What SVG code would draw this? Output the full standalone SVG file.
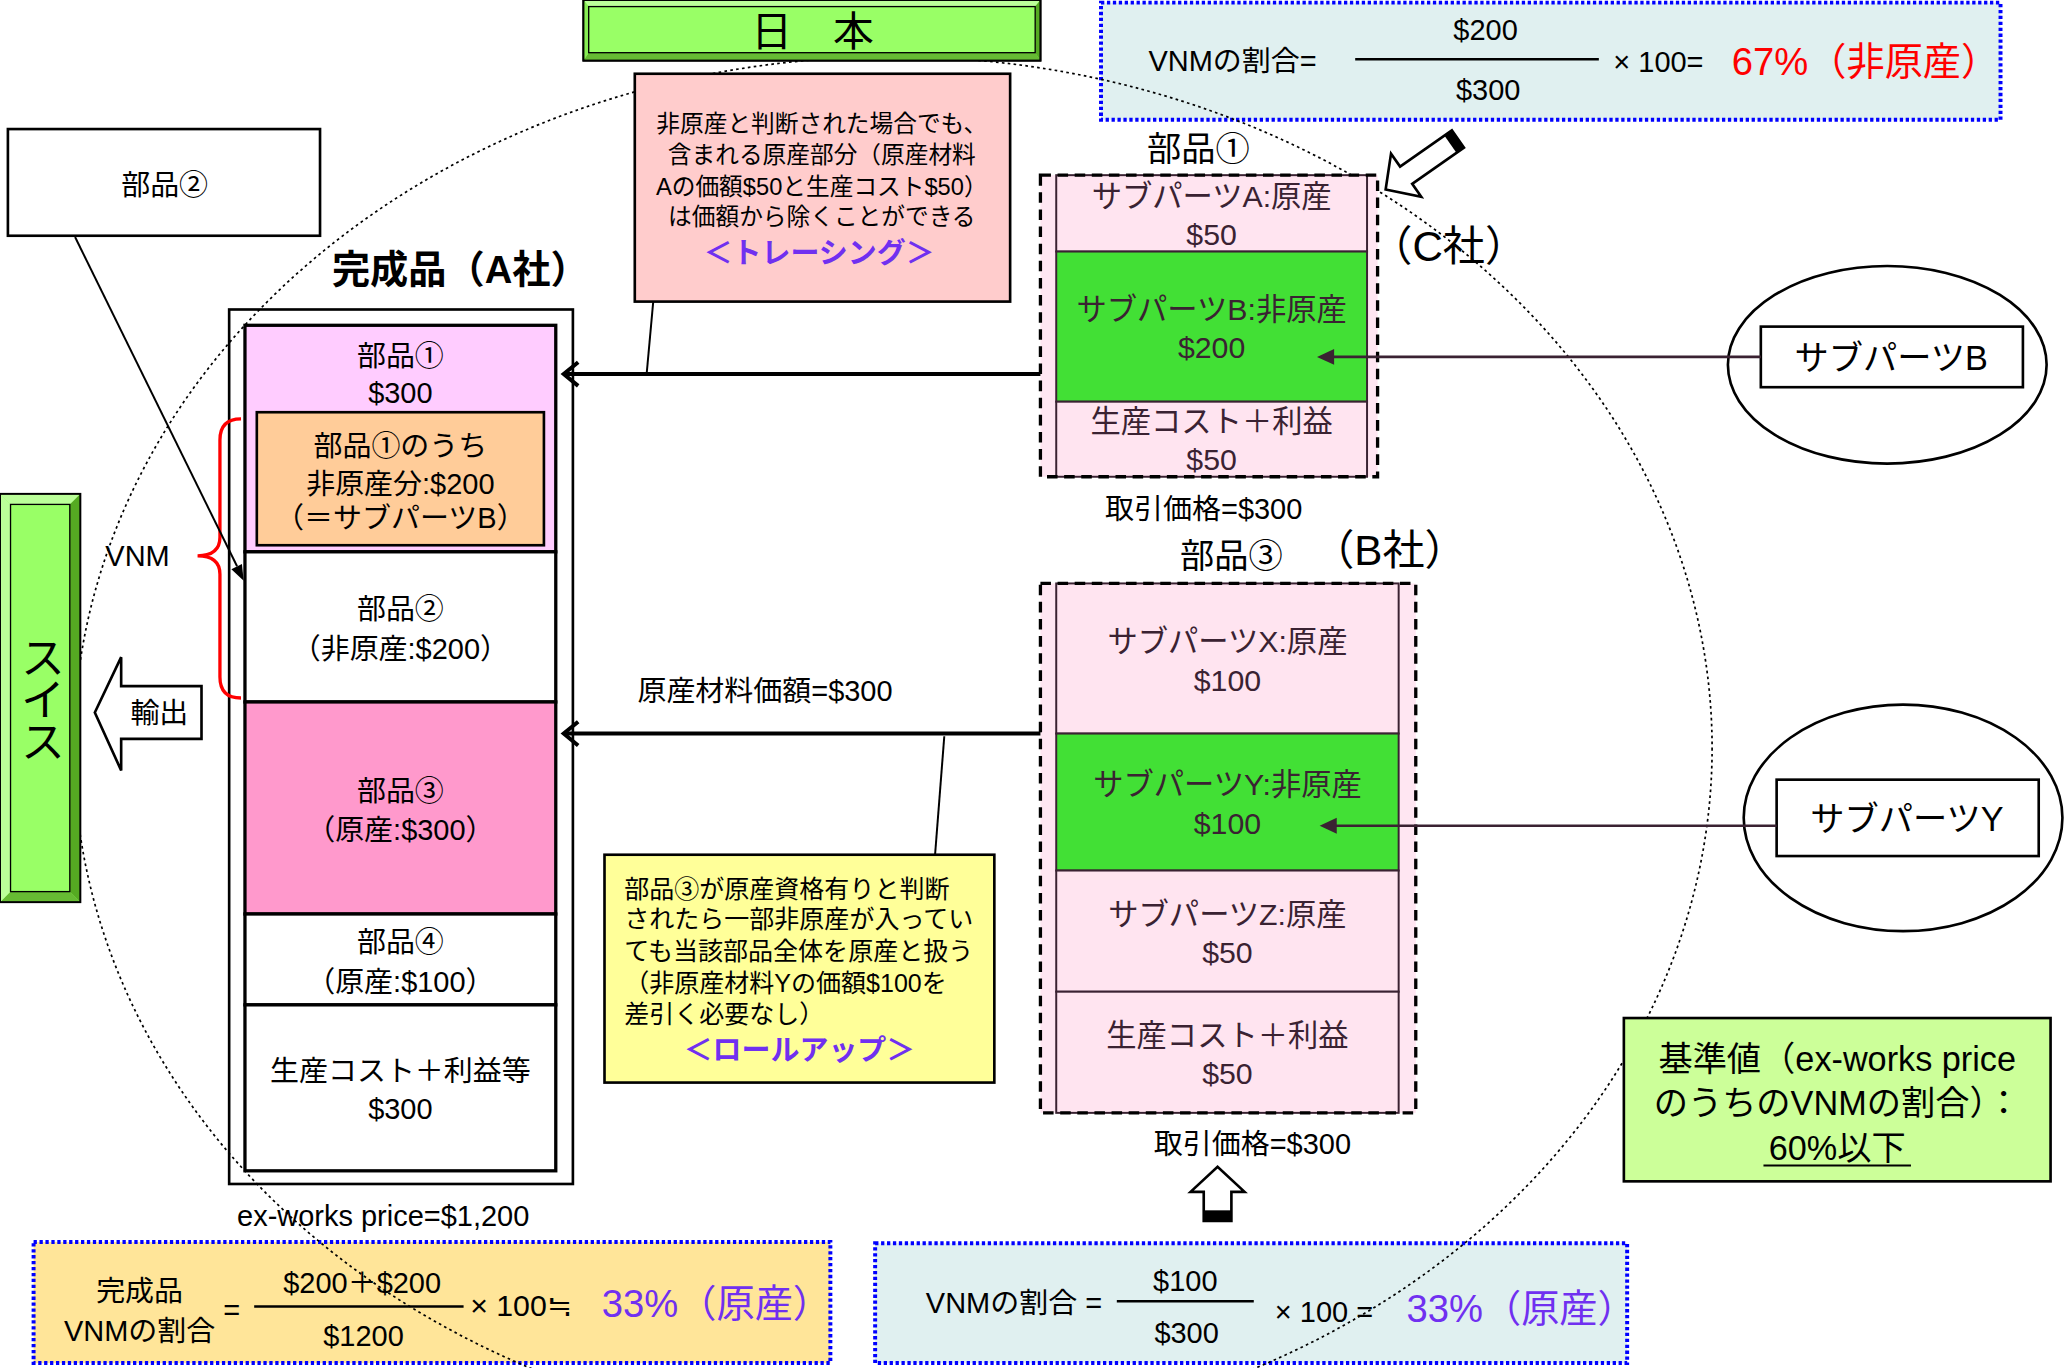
<svg xmlns="http://www.w3.org/2000/svg" width="2065" height="1368" viewBox="0 0 2065 1368">
<style>
text { font-family: "Liberation Sans", "Noto Sans CJK JP", sans-serif; fill: #000; }
.c { text-anchor: middle; }
.f22 { font-size: 22px; }
.f23 { font-size: 23px; }
.f19 { font-size: 19px; }
.f18 { font-size: 18px; }
.f26 { font-size: 26px; }
.f29 { font-size: 29px; }
.f32 { font-size: 32px; }
.dk { fill: #3a2232; }
.pur { fill: #7030F0; }
.red { fill: #FF0000; }
.fbox { stroke: #0000FF; stroke-width: 3; stroke-dasharray: 2.5 2; }
.seg { stroke: #000; stroke-width: 2.5; }
.sub { stroke: #3a2232; stroke-width: 1.5; }
.dash { fill: none; stroke: #000; stroke-width: 2.5; stroke-dasharray: 8 5; }
.thick { stroke: #000; stroke-width: 3; fill: none; }
</style>
<rect x="0" y="0" width="2065" height="1368" fill="#fff"/>
<g transform="scale(1.317)">
  <!-- formula boxes (below the dotted circle) -->
  <g id="formula-total">
    <rect class="fbox" x="25.5" y="943" width="605" height="92" fill="#FFE599"/>
    <text class="c f22" x="106" y="988">完成品</text>
    <text class="c f22" x="106" y="1018">VNMの割合</text>
    <text class="c f22" x="176" y="1002">=</text>
    <text class="c f22" x="275" y="982">$200＋$200</text>
    <line x1="193" y1="992" x2="352" y2="992" stroke="#000" stroke-width="2"/>
    <text class="c f22" x="276" y="1022">$1200</text>
    <text class="f23" x="357" y="999">× 100≒</text>
    <text class="f29 pur" x="457" y="1000">33%（原産）</text>
  </g>
  <g id="formula-partB">
    <rect class="fbox" x="664.5" y="944" width="571" height="91" fill="#E0F0F0"/>
    <text class="f22" x="703" y="997">VNMの割合 =</text>
    <text class="c f22" x="900" y="980">$100</text>
    <line x1="848" y1="988" x2="952" y2="988" stroke="#000" stroke-width="2"/>
    <text class="c f22" x="901" y="1020">$300</text>
    <text class="f22" x="968" y="1004">× 100 =</text>
    <text class="f29 pur" x="1068" y="1004">33%（原産）</text>
  </g>
  <g id="formula-partC">
    <rect class="fbox" x="836" y="2" width="683" height="89" fill="#E0F0F0"/>
    <text class="f22" x="872" y="54">VNMの割合=</text>
    <text class="c f22" x="1128" y="30">$200</text>
    <line x1="1029" y1="45" x2="1214" y2="45" stroke="#000" stroke-width="2"/>
    <text class="c f22" x="1130" y="76">$300</text>
    <text class="f22" x="1225" y="55">× 100=</text>
    <text class="f29 red" x="1315" y="57">67%（非原産）</text>
  </g>

  <!-- dotted region boundary -->
  <ellipse id="region" cx="678" cy="568" rx="622" ry="525" fill="none" stroke="#000" stroke-width="1.3" stroke-dasharray="2 2.5"/>

  <!-- Japan label -->
  <g id="japan">
    <rect x="443" y="0" width="347" height="46" fill="#99FF66" stroke="#000" stroke-width="1.5"/>
    <polygon points="443,0 790,0 786,5 447,5" fill="#BBFF99"/>
    <polygon points="443,46 790,46 786,40 447,40" fill="#66BB33"/>
    <polygon points="443,0 447,5 447,40 443,46" fill="#88EE55"/>
    <polygon points="790,0 786,5 786,40 790,46" fill="#55AA22"/>
    <rect x="443" y="0" width="347" height="46" fill="none" stroke="#000" stroke-width="1.5"/>
    <rect x="447" y="5" width="339" height="35" fill="none" stroke="#000" stroke-width="1"/>
    <text class="c" x="617" y="35" font-size="31">日　本</text>
  </g>

  <!-- Switzerland label -->
  <g id="swiss">
    <rect x="0" y="375" width="61" height="310" fill="#99FF66"/>
    <polygon points="0,375 61,375 53,383 8,383" fill="#BBFF99"/>
    <polygon points="0,685 61,685 53,677 8,677" fill="#66BB33"/>
    <polygon points="0,375 8,383 8,677 0,685" fill="#BBFF99"/>
    <polygon points="61,375 53,383 53,677 61,685" fill="#55AA22"/>
    <rect x="0" y="375" width="61" height="310" fill="none" stroke="#000" stroke-width="1.5"/>
    <rect x="8" y="383" width="45" height="294" fill="none" stroke="#000" stroke-width="1"/>
    <text class="c" x="30" y="530" font-size="34" style="writing-mode: vertical-rl" letter-spacing="-2">スイス</text>
  </g>

  <!-- export arrow -->
  <g id="export">
    <polygon points="72,541 92,499 92,521 153,521 153,561 92,561 92,585" fill="#fff" stroke="#000" stroke-width="2"/>
    <text class="c f22" x="121" y="549">輸出</text>
  </g>

  <!-- part 2 box -->
  <g id="part2-box">
    <rect x="6" y="98" width="237" height="81" fill="#fff" stroke="#000" stroke-width="2"/>
    <text class="c f22" x="125" y="148">部品②</text>
  </g>

  <!-- finished product (company A) -->
  <g id="productA">
    <text x="252" y="215" font-size="29" font-weight="bold">完成品（A社）</text>
    <rect x="174" y="235" width="261" height="664" fill="none" stroke="#000" stroke-width="2"/>
    <rect class="seg" x="186" y="247" width="236" height="172" fill="#FFCCFF"/>
    <rect class="seg" x="186" y="419" width="236" height="114" fill="#fff"/>
    <rect class="seg" x="186" y="533" width="236" height="161" fill="#FF99CC"/>
    <rect class="seg" x="186" y="694" width="236" height="69" fill="#fff"/>
    <rect class="seg" x="186" y="763" width="236" height="126" fill="#fff"/>
    <rect x="195" y="313" width="218" height="101" fill="#FFCC99" stroke="#000" stroke-width="2"/>
    <text class="c f22" x="304" y="278">部品①</text>
    <text class="c f22" x="304" y="306">$300</text>
    <text class="c f22" x="304" y="346">部品①のうち</text>
    <text class="c f22" x="304" y="375">非原産分:$200</text>
    <text class="c f22" x="304" y="401">（＝サブパーツB）</text>
    <text class="c f22" x="304" y="470">部品②</text>
    <text class="c f22" x="304" y="500">（非原産:$200）</text>
    <text class="c f22" x="304" y="608">部品③</text>
    <text class="c f22" x="304" y="638">（原産:$300）</text>
    <text class="c f22" x="304" y="723">部品④</text>
    <text class="c f22" x="304" y="753">（原産:$100）</text>
    <text class="c f22" x="304" y="821">生産コスト＋利益等</text>
    <text class="c f22" x="304" y="850">$300</text>
    <text class="f22" x="180" y="931">ex-works price=$1,200</text>
  </g>

  <!-- VNM brace -->
  <g id="vnm-brace">
    <path d="M183,318 Q167,318 167,334 L167,408 Q167,422 150,422 Q167,422 167,436 L167,514 Q167,530 183,530" fill="none" stroke="#FF0000" stroke-width="2.5"/>
    <text class="f22" x="80" y="430">VNM</text>
  </g>

  <!-- part 1 (company C) -->
  <g id="partC">
    <text class="c f26" x="910" y="122">部品①</text>
    <text class="c f32" x="1100" y="198">（C社）</text>
    <rect x="790" y="133" width="256" height="229" fill="#FFE6F2"/>
    <rect class="sub" x="802" y="133" width="236" height="58" fill="#FFE4F0"/>
    <rect class="sub" x="802" y="191" width="236" height="114" fill="#42E035"/>
    <rect class="sub" x="802" y="305" width="236" height="57" fill="#FFE4F0"/>
    <rect class="dash" x="790" y="133" width="256" height="229"/>
    <text class="c f23 dk" x="920" y="157">サブパーツA:原産</text>
    <text class="c f23 dk" x="920" y="186">$50</text>
    <text class="c f23 dk" x="920" y="243">サブパーツB:非原産</text>
    <text class="c f23 dk" x="920" y="272">$200</text>
    <text class="c f23 dk" x="920" y="328">生産コスト＋利益</text>
    <text class="c f23 dk" x="920" y="357">$50</text>
    <text class="c f22" x="914" y="394">取引価格=$300</text>
  </g>

  <!-- part 3 (company B) -->
  <g id="partB">
    <text class="c f26" x="935" y="431">部品③</text>
    <text class="c f32" x="1055" y="429">（B社）</text>
    <rect x="790" y="443" width="285" height="402" fill="#FFE6F2"/>
    <rect class="sub" x="802" y="443" width="260" height="114" fill="#FFE4F0"/>
    <rect class="sub" x="802" y="557" width="260" height="104" fill="#42E035"/>
    <rect class="sub" x="802" y="661" width="260" height="92" fill="#FFE4F0"/>
    <rect class="sub" x="802" y="753" width="260" height="92" fill="#FFE4F0"/>
    <rect class="dash" x="790" y="443" width="285" height="402"/>
    <text class="c f23 dk" x="932" y="495">サブパーツX:原産</text>
    <text class="c f23 dk" x="932" y="525">$100</text>
    <text class="c f23 dk" x="932" y="604">サブパーツY:非原産</text>
    <text class="c f23 dk" x="932" y="633">$100</text>
    <text class="c f23 dk" x="932" y="702">サブパーツZ:原産</text>
    <text class="c f23 dk" x="932" y="731">$50</text>
    <text class="c f23 dk" x="932" y="794">生産コスト＋利益</text>
    <text class="c f23 dk" x="932" y="823">$50</text>
    <text class="c f22" x="951" y="876">取引価格=$300</text>
  </g>

  <!-- sub part B -->
  <g id="subpartB">
    <ellipse cx="1433" cy="277" rx="121" ry="75" fill="#fff" stroke="#000" stroke-width="2"/>
    <rect x="1337" y="248" width="199" height="46" fill="#fff" stroke="#000" stroke-width="2"/>
    <text class="c f26" x="1436" y="281">サブパーツB</text>
  </g>
  <!-- sub part Y -->
  <g id="subpartY">
    <ellipse cx="1445" cy="621" rx="121" ry="86" fill="#fff" stroke="#000" stroke-width="2"/>
    <rect x="1349" y="592" width="199" height="58" fill="#fff" stroke="#000" stroke-width="2"/>
    <text class="c f26" x="1448" y="631">サブパーツY</text>
  </g>

  <!-- tracing note -->
  <g id="note-tracing">
    <rect x="482" y="56" width="285" height="173" fill="#FFCCCC" stroke="#000" stroke-width="2"/>
    <text class="c f18" x="624" y="100">非原産と判断された場合でも、</text>
    <text class="c f18" x="624" y="124">含まれる原産部分（原産材料</text>
    <text class="c f18" x="624" y="148">Aの価額$50と生産コスト$50）</text>
    <text class="c f18" x="624" y="171">は価額から除くことができる</text>
    <text class="c pur" x="622" y="200" font-size="22" font-weight="bold">＜トレーシング＞</text>
  </g>

  <!-- rollup note -->
  <g id="note-rollup">
    <rect x="459" y="649" width="296" height="173" fill="#FFFF99" stroke="#000" stroke-width="2"/>
    <text class="f19" x="474" y="682">部品③が原産資格有りと判断</text>
    <text class="f19" x="474" y="705">されたら一部非原産が入ってい</text>
    <text class="f19" x="474" y="729">ても当該部品全体を原産と扱う</text>
    <text class="f19" x="474" y="753">（非原産材料Yの価額$100を</text>
    <text class="f19" x="474" y="777">差引く必要なし）</text>
    <text class="c pur" x="607" y="805" font-size="22" font-weight="bold">＜ロールアップ＞</text>
  </g>

  <!-- threshold -->
  <g id="threshold">
    <rect x="1233" y="773" width="324" height="124" fill="#CCFF99" stroke="#000" stroke-width="2"/>
    <text class="c f26" x="1395" y="813">基準値（ex-works price</text>
    <text class="c f26" x="1395" y="847">のうちのVNMの割合）：</text>
    <text class="c f26" x="1395" y="881">60%以下</text>
    <line x1="1339" y1="885" x2="1451" y2="885" stroke="#000" stroke-width="1.5"/>
  </g>

  <!-- connectors -->
  <g id="connectors">
    <line x1="57" y1="180" x2="180" y2="430" stroke="#000" stroke-width="1.5"/>
    <polygon points="185,441 175.7,432.2 183.7,428.2" fill="#000"/>
    <line class="thick" x1="790" y1="284" x2="429" y2="284"/>
    <polyline class="thick" points="439,275 428,284 439,293"/>
    <line x1="496" y1="229" x2="491" y2="284" stroke="#000" stroke-width="1.5"/>
    <line class="thick" x1="790" y1="557" x2="429" y2="557"/>
    <polyline class="thick" points="439,548 428,557 439,566"/>
    <line x1="717" y1="559" x2="710" y2="649" stroke="#000" stroke-width="1.5"/>
    <text class="f22" x="484" y="532">原産材料価額=$300</text>
    <line x1="1337" y1="271" x2="1010" y2="271" stroke="#3a2232" stroke-width="2"/>
    <polygon points="1000,271 1013,265 1013,277" fill="#3a2232"/>
    <line x1="1349" y1="627" x2="1012" y2="627" stroke="#3a2232" stroke-width="2"/>
    <polygon points="1002,627 1015,621 1015,633" fill="#3a2232"/>
    <g transform="translate(1107,105.5) rotate(145)">
      <polygon points="0,-8 48,-8 48,-20 67,0 48,20 48,8 0,8" fill="#fff" stroke="#000" stroke-width="2"/>
      <rect x="0" y="-8" width="7" height="16" fill="#000"/>
    </g>
    <g transform="translate(924.5,927) rotate(-90)">
      <polygon points="0,-10.5 22,-10.5 22,-20.5 41,0 22,20.5 22,10.5 0,10.5" fill="#fff" stroke="#000" stroke-width="2"/>
      <rect x="0" y="-10.5" width="8" height="21" fill="#000"/>
    </g>
  </g>
</g>
</svg>
